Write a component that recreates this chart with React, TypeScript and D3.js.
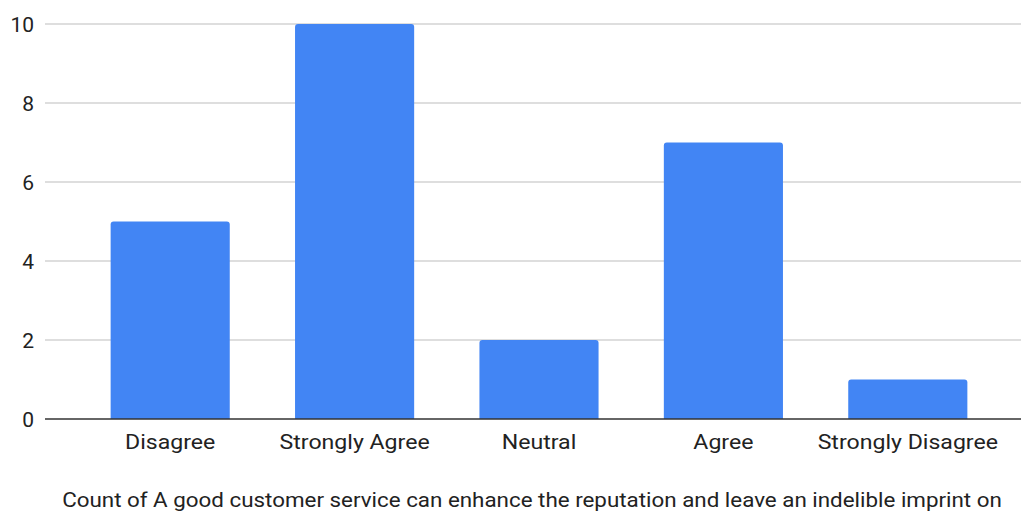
import React from "react";
import * as d3 from "d3";

const categories = ["Disagree", "Strongly Agree", "Neutral", "Agree", "Strongly Disagree"];
const counts = [5, 10, 2, 7, 1];
const yTicks = [0, 2, 4, 6, 8, 10];
const title = "Count of A good customer service can enhance the reputation and leave an indelible imprint on";

const W = 1021;
const H = 511;

export default function App() {
  const x = d3.scaleBand<string>().domain(categories).range([78, 1000]).paddingInner(0.354).paddingOuter(0.177);
  const y = d3.scaleLinear().domain([0, 10]).range([419, 24]);
  const font = "Roboto, Arial, sans-serif";
  const r = 3;
  return (
    <svg width={W} height={H} style={{ position: "absolute", left: 0, top: 0, background: "#fff" }}>
      {yTicks.map((t) =>
        t === 0 ? null : (
          <line key={"g" + t} x1={45} x2={W} y1={y(t)} y2={y(t)} stroke="#d3d3d3" strokeWidth={1.5} />
        )
      )}
      {categories.map((c, i) => {
        const x0 = x(c)!;
        const bw = x.bandwidth();
        const y0 = y(counts[i]);
        const y1 = y(0);
        const path = `M${x0},${y1} L${x0},${y0 + r} Q${x0},${y0} ${x0 + r},${y0} L${x0 + bw - r},${y0} Q${x0 + bw},${y0} ${x0 + bw},${y0 + r} L${x0 + bw},${y1} Z`;
        return <path key={c} d={path} fill="#4285f4" />;
      })}
      <line x1={45} x2={W} y1={y(0)} y2={y(0)} stroke="#333" strokeWidth={1.5} />
      {yTicks.map((t) => (
        <text key={"t" + t} x={34} y={y(t)} dy="0.36em" textAnchor="end" fontFamily={font} fontSize={21} fill="#222">
          {t}
        </text>
      ))}
      {categories.map((c) => (
        <text
          key={"l" + c}
          transform={`translate(${x(c)! + x.bandwidth() / 2},449) scale(1.1,1)`}
          textAnchor="middle"
          fontFamily={font}
          fontSize={21}
          fill="#222"
        >
          {c}
        </text>
      ))}
      <text transform="translate(532,507) scale(1.066,1)" textAnchor="middle" fontFamily={font} fontSize={21} fill="#222">
        {title}
      </text>
    </svg>
  );
}
